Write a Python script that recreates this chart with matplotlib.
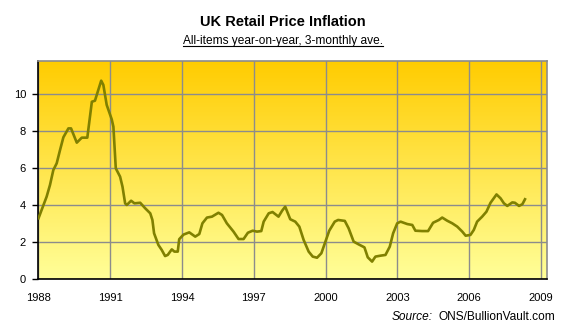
import numpy as np
import matplotlib
matplotlib.use("Agg")
import matplotlib.pyplot as plt
from matplotlib.colors import LinearSegmentedColormap
from matplotlib.lines import Line2D

# RPI, roční změna v %, čteno z obrázku
years = [1988.0, 1988.13, 1988.34, 1988.48, 1988.62, 1988.76, 1988.9, 1989.04,
         1989.25, 1989.36, 1989.6, 1989.81, 1990.04, 1990.23, 1990.36, 1990.62,
         1990.71, 1990.85, 1991.06, 1991.13, 1991.23, 1991.41, 1991.51, 1991.62,
         1991.69, 1991.87, 1992.01, 1992.25, 1992.46, 1992.67, 1992.76, 1992.83,
         1993.01, 1993.15, 1993.29, 1993.4, 1993.57, 1993.68, 1993.82, 1993.88,
         1994.06, 1994.3, 1994.55, 1994.72, 1994.85, 1995.04, 1995.25, 1995.52,
         1995.67, 1995.87, 1996.15, 1996.36, 1996.57, 1996.75, 1996.95, 1997.13,
         1997.31, 1997.41, 1997.62, 1997.78, 1998.03, 1998.18, 1998.31, 1998.52,
         1998.73, 1998.9, 1999.08, 1999.29, 1999.46, 1999.64, 1999.82, 1999.99,
         2000.15, 2000.38, 2000.52, 2000.8, 2000.96, 2001.17, 2001.38, 2001.62,
         2001.76, 2001.94, 2002.08, 2002.29, 2002.5, 2002.68, 2002.82, 2002.99,
         2003.13, 2003.41, 2003.62, 2003.75, 2004.03, 2004.28, 2004.49, 2004.73,
         2004.87, 2005.08, 2005.29, 2005.5, 2005.71, 2005.85, 2006.05, 2006.19,
         2006.33, 2006.54, 2006.72, 2006.89, 2007.14, 2007.31, 2007.45, 2007.59,
         2007.8, 2007.91, 2008.08, 2008.22, 2008.33]
rpi = [3.28, 3.73, 4.45, 5.08, 5.89, 6.25, 6.97, 7.66,
       8.14, 8.14, 7.37, 7.64, 7.64, 9.58, 9.64, 10.72,
       10.49, 9.41, 8.63, 8.23, 5.98, 5.53, 4.99, 4.09,
       4.0, 4.23, 4.09, 4.12, 3.82, 3.55, 3.19, 2.47,
       1.84, 1.57, 1.24, 1.3, 1.6, 1.48, 1.48, 2.15,
       2.4, 2.52, 2.29, 2.43, 3.01, 3.32, 3.37, 3.58,
       3.46, 3.01, 2.56, 2.16, 2.16, 2.5, 2.61, 2.56,
       2.59, 3.1, 3.55, 3.62, 3.37, 3.69, 3.91, 3.23,
       3.1, 2.83, 2.11, 1.48, 1.21, 1.15, 1.39, 2.02,
       2.61, 3.1, 3.19, 3.14, 2.74, 2.02, 1.87, 1.71,
       1.17, 0.94, 1.21, 1.26, 1.3, 1.75, 2.47, 3.01,
       3.1, 2.97, 2.92, 2.61, 2.59, 2.59, 3.04, 3.19,
       3.32, 3.15, 3.01, 2.83, 2.56, 2.34, 2.38, 2.65,
       3.1, 3.37, 3.64, 4.12, 4.57, 4.36, 4.09, 3.95,
       4.14, 4.12, 3.95, 4.04, 4.31]

x_ticks = [1988, 1991, 1994, 1997, 2000, 2003, 2006, 2009]
y_ticks = [0, 2, 4, 6, 8, 10]

plt.rcParams['font.family'] = ['Liberation Sans', 'DejaVu Sans']

fig = plt.figure(figsize=(5.72, 3.33), dpi=100)
ax = fig.add_axes([0.0673, 0.1622, 0.8890, 0.6561])

# pozadí s přechodem
cmap = LinearSegmentedColormap.from_list("bg", ["#FFFF99", "#FFCC00"])
grad = np.linspace(0, 1, 256).reshape(-1, 1)
ax.imshow(grad, extent=[0, 1, 0, 1], transform=ax.transAxes, cmap=cmap,
          origin="lower", aspect="auto", zorder=0)

ax.set_xlim(1988, 2009.25)
ax.set_ylim(0, 11.81)
ax.set_xticks(x_ticks)
ax.set_yticks(y_ticks)
ax.grid(True, color="#8C8C8C", linewidth=1.0, zorder=1)
ax.set_axisbelow(True)

ax.plot(years, rpi, color="#808000", linewidth=1.9, zorder=3)

for side in ["top", "right"]:
    ax.spines[side].set_color("#8C8C8C")
    ax.spines[side].set_linewidth(1.2)
for side in ["left", "bottom"]:
    ax.spines[side].set_color("black")
    ax.spines[side].set_linewidth(1.2)

ax.tick_params(axis="y", length=4, width=1, direction="out", labelsize=8, pad=5)
ax.tick_params(axis="x", length=0, labelsize=8, pad=10)

# titulek a podtitulek
fig.text(0.495, 0.934, "UK Retail Price Inflation", ha="center", va="center",
         fontsize=10.5, fontweight="bold")
sub = fig.text(0.495, 0.877, "All-items year-on-year, 3-monthly ave.", ha="center",
               va="center", fontsize=8.6)
fig.canvas.draw()
bb = sub.get_window_extent().transformed(fig.transFigure.inverted())
fig.add_artist(Line2D([bb.x0, bb.x1], [bb.y0 + 0.004, bb.y0 + 0.004],
                      color="black", linewidth=0.8, transform=fig.transFigure))

fig.text(0.97, 0.048, "ONS/BullionVault.com", ha="right", va="center", fontsize=8.6)
src = fig.texts[-1]
fig.canvas.draw()
bb2 = src.get_window_extent().transformed(fig.transFigure.inverted())
fig.text(bb2.x0 - 0.01, 0.048, "Source:", ha="right", va="center", fontsize=8.6,
         style="italic")

fig.savefig("out.png", dpi=100)
